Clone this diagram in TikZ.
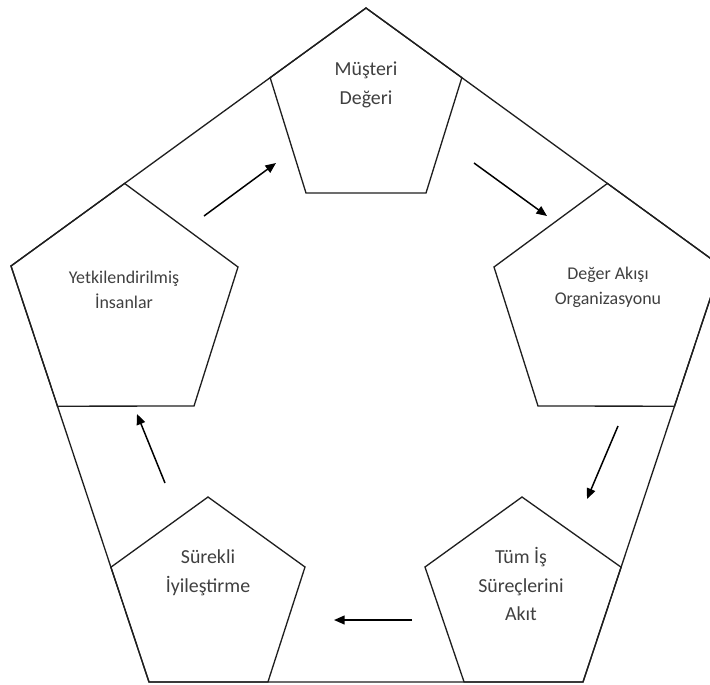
\documentclass[tikz,border=0pt]{standalone}
\usepackage{fontspec}
\setmainfont{Carlito}
\usetikzlibrary{arrows.meta,calc}
\begin{document}
\begin{tikzpicture}[x=0.02cm,y=-0.02cm,
  outline/.style={draw=black!88, line width=0.75pt, line join=miter},
  flow/.style={draw=black, line width=0.85pt, -{Triangle[length=6pt,width=5pt]}},
  lbl/.style={align=center, text=black!75, inner sep=0pt,
    font=\fontsize{11.3}{16.4}\selectfont},
  lblside/.style={lbl, font=\fontsize{10.2}{14.2}\selectfont}]

  % page frame
  \useasboundingbox (0,0) rectangle (710,684);
  \fill[white] (0,0) rectangle (710,684);
  \clip (0,0) rectangle (710,684);

  % outer pentagon
  \coordinate (Otop) at (366,8);
  \coordinate (Oleft) at (11,266);
  \coordinate (Oright) at (721,266);
  \coordinate (Obl) at (149,682);
  \coordinate (Obr) at (583,682);
  \draw[outline] (Otop) -- (Oright) -- (Obr) -- (Obl) -- (Oleft) -- cycle;

  % points where the inner pentagons meet the outer edges
  \coordinate (Tl)  at ($(Otop)!0.27!(Oleft)$);
  \coordinate (Tr)  at ($(Otop)!0.27!(Oright)$);
  \coordinate (La)  at ($(Otop)!0.68!(Oleft)$);
  \coordinate (Ra)  at ($(Otop)!0.68!(Oright)$);
  \coordinate (Lbl) at ($(Oleft)!0.337!(Obl)$);
  \coordinate (Sl)  at ($(Oleft)!0.724!(Obl)$);
  \coordinate (Rbr) at ($(Oright)!0.337!(Obr)$);
  \coordinate (Dr)  at ($(Oright)!0.724!(Obr)$);
  \coordinate (Sbr) at ($(Obl)!0.274!(Obr)$);
  \coordinate (Dbl) at ($(Obl)!0.726!(Obr)$);

  % top pentagon
  \coordinate (Tbl) at (306,193);
  \coordinate (Tbr) at (426,193);
  \draw[outline] (Otop) -- (Tr) -- (Tbr) -- (Tbl) -- (Tl) -- cycle;

  % left pentagon
  \coordinate (Lr) at (238,267);
  \coordinate (Lbr) at (194,406);
  \draw[outline] (La) -- (Lr) -- (Lbr) -- (Lbl) -- (Oleft) -- cycle;

  % right pentagon
  \coordinate (Rl) at (494,267);
  \coordinate (Rbl) at (538,406);
  \draw[outline] (Ra) -- (Oright) -- (Rbr) -- (Rbl) -- (Rl) -- cycle;

  % lower right pentagon
  \coordinate (Da) at (522,497);
  \coordinate (Dl) at (425,567);
  \draw[outline] (Da) -- (Dr) -- (Obr) -- (Dbl) -- (Dl) -- cycle;

  % lower left pentagon
  \coordinate (Sa) at (208,497);
  \coordinate (Sr) at (305,567);
  \draw[outline] (Sa) -- (Sr) -- (Sbr) -- (Obl) -- (Sl) -- cycle;

  % labels
  \node[lbl] (musteri) at (366,85) {Müşteri\\Değeri};
  \node[lblside] (yetki) at (124,290) {Yetkilendirilmiş\\İnsanlar};
  \node[lblside] (akis) at (608,287) {Değer Akışı\\Organizasyonu};
  \node[lbl] (surec) at (521,584) {Tüm İş\\Süreçlerini\\Akıt};
  \node[lbl] (iyi) at (208,573) {Sürekli\\İyileştirme};

  % cycle arrows
  \coordinate (a1s) at (204,216); \coordinate (a1e) at (276,163);
  \coordinate (a2s) at (474,163); \coordinate (a2e) at (547,216);
  \coordinate (a3s) at (618,426); \coordinate (a3e) at (587,499);
  \coordinate (a4s) at (412,620); \coordinate (a4e) at (334,620);
  \coordinate (a5s) at (165,483); \coordinate (a5e) at (137,414);
  \draw[flow] (a1s) -- (a1e);
  \draw[flow] (a2s) -- (a2e);
  \draw[flow] (a3s) -- (a3e);
  \draw[flow] (a4s) -- (a4e);
  \draw[flow] (a5s) -- (a5e);
\end{tikzpicture}
\end{document}
